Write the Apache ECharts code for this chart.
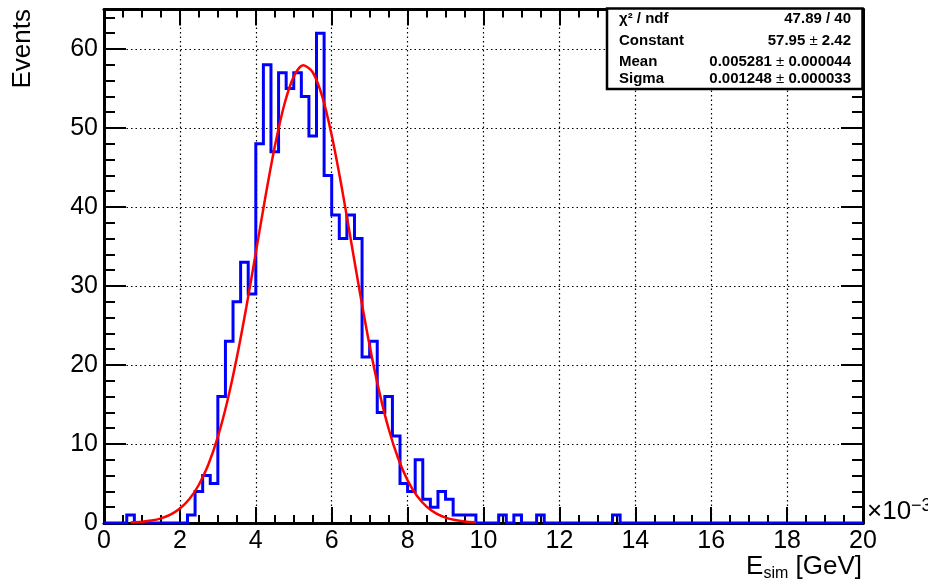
<!DOCTYPE html>
<html><head><meta charset="utf-8">
<script src="https://cdn.jsdelivr.net/npm/echarts@6/dist/echarts.min.js"></script>
<style>html,body{margin:0;padding:0;background:#fff}#c{width:928px;height:585px}</style>
</head><body><div id="c"></div>
<script>
// ---- data (x in units of 1e-3 GeV) ----
const binLow = 0;
const binWidth = 0.2;
const counts = [
  0,0,0,1,0,0,0,0,0,0,
  0,1,4,6,5,16,23,28,33,29,
  48,58,47,57,55,57,54,49,62,44,
  39,36,39,36,21,23,14,16,11,5,
  4,8,3,2,4,3,1,1,1,0,
  0,0,1,0,1,0,0,1,0,0,
  0,0,0,0,0,0,0,1,0,0,
  0,0,0,0,0,0,0,0,0,0,
  0,0,0,0,0,0,0,0,0,0,
  0,0,0,0,0,0,0,0,0,0
];
const fitX = [0.7,1.0,1.25,1.5,1.75,2.0,2.25,2.5,2.75,3.0,3.25,3.5,3.75,4.0,4.25,4.5,4.75,5.0,5.25,5.5,5.75,6.0,6.25,6.5,6.75,7.0,7.25,7.5,7.75,8.0,8.25,8.5,8.75,9.0,9.25,9.5,9.8];
const fitY = [0.07,0.16,0.31,0.59,1.06,1.83,3.03,4.84,7.41,10.91,15.42,20.94,27.31,34.22,41.20,47.65,52.94,56.50,57.93,57.06,54.00,49.09,42.87,35.96,28.99,22.44,16.69,11.93,8.19,5.40,3.42,2.08,1.22,0.68,0.37,0.19,0.08];
const statsNames = ['χ² / ndf', 'Constant', 'Mean', 'Sigma'];
const statsVals  = ['47.89 / 40', '57.95', '0.005281', '0.001248'];
const statsErrs  = [null, '2.42', '0.000044', '0.000033'];
const yTitle = 'Events';

// ---- build ----
const FONT = 'Liberation Sans, Arial, Helvetica, sans-serif';
const histPts = [];
counts.forEach((c, i) => {
  const lo = +(binLow + i * binWidth).toFixed(4);
  const hi = +(binLow + (i + 1) * binWidth).toFixed(4);
  histPts.push([lo, c], [hi, c]);
});
const fitPts = fitX.map((x, i) => [x, fitY[i]]);

const chart = echarts.init(document.getElementById('c'), null, {renderer: 'canvas'});
const axLine = {show: true, onZero: false, lineStyle: {color: '#000', width: 3}};
const grid = {left: 104, right: 65, top: 9.5, bottom: 62, containLabel: false, outerBoundsMode: 'none'};

function xAx(pos, labels) {
  return {
    type: 'value', position: pos, min: 0, max: 20, interval: 2,
    axisLine: axLine,
    axisTick: {show: true, inside: true, length: 16, lineStyle: {color: '#000', width: 2}},
    minorTick: {show: true, splitNumber: 4, length: 8, lineStyle: {color: '#000', width: 2}},
    axisLabel: {show: labels, color: '#000', fontSize: 25, fontFamily: FONT, margin: 6},
    splitLine: {show: labels, lineStyle: {color: '#000', width: 1.2, type: [1.5, 3]}},
    minorSplitLine: {show: false}
  };
}
function yAx(pos, interval, len, labels, split) {
  return {
    type: 'value', position: pos, min: 0, max: 65, interval: interval,
    axisLine: axLine,
    axisTick: {show: true, inside: true, length: len, lineStyle: {color: '#000', width: 2}},
    minorTick: {show: false},
    axisLabel: {show: labels, color: '#000', fontSize: 25, fontFamily: FONT, margin: 6,
      formatter: v => (v % 10 === 0 ? String(v) : '')},
    splitLine: {show: split, lineStyle: {color: '#000', width: 1.2, type: [1.5, 3]}}
  };
}

const xa0 = xAx('bottom', true);
xa0.name = '{e|E}{s|sim}{e| [GeV]}';
xa0.nameLocation = 'end';
xa0.nameGap = -1;
xa0.nameTextStyle = {
  align: 'right', verticalAlign: 'top', padding: [29, 0, 0, 0],
  rich: {
    e: {fontSize: 26, fontFamily: FONT, color: '#000', lineHeight: 30},
    s: {fontSize: 16, fontFamily: FONT, color: '#000', lineHeight: 14, verticalAlign: 'bottom'}
  }
};

const statsGraphics = [{
  type: 'rect', z: 100,
  shape: {x: 607, y: 8.5, width: 255.5, height: 80.5},
  style: {fill: '#fff', stroke: '#000', lineWidth: 2.5}
}];
const rowY = [19, 41, 61.5, 78.5];
statsNames.forEach((n, i) => {
  statsGraphics.push({
    type: 'text', z: 101, x: 619, y: rowY[i],
    style: {text: n, fontSize: 15, fontWeight: 'bold', fontFamily: FONT, fill: '#000',
      align: 'left', verticalAlign: 'middle', textAlign: 'left', textVerticalAlign: 'middle'}
  });
  const txt = statsErrs[i] == null ? '{b|' + statsVals[i] + '}'
    : '{b|' + statsVals[i] + ' }{n|±}{b| ' + statsErrs[i] + '}';
  statsGraphics.push({
    type: 'text', z: 101, x: 851, y: rowY[i],
    style: {text: txt, fill: '#000', align: 'right', verticalAlign: 'middle',
      textAlign: 'right', textVerticalAlign: 'middle',
      rich: {
        b: {fontSize: 15, fontWeight: 'bold', fontFamily: FONT, fill: '#000', color: '#000'},
        n: {fontSize: 15, fontWeight: 'normal', fontFamily: FONT, fill: '#000', color: '#000'}
      }}
  });
});

const option = {
  backgroundColor: '#fff',
  animation: false,
  grid: grid,
  xAxis: [xa0, xAx('top', false)],
  yAxis: [
    yAx('left', 10, 22, true, true),
    yAx('left', 2, 11, false, false),
    yAx('right', 10, 22, false, false),
    yAx('right', 2, 11, false, false)
  ],
  graphic: [
    {type: 'text', x: 23, y: 9, rotation: Math.PI / 2,
      style: {text: yTitle, fontSize: 26, fontFamily: FONT, fill: '#000',
        align: 'right', verticalAlign: 'middle', textAlign: 'right', textVerticalAlign: 'middle'}},
    {type: 'text', x: 867, y: 512,
      style: {text: '{a|×10}{p|−3}', fill: '#000', align: 'left', verticalAlign: 'middle',
        textAlign: 'left', textVerticalAlign: 'middle',
        rich: {
          a: {fontSize: 26, fontFamily: FONT, fill: '#000', color: '#000', lineHeight: 30},
          p: {fontSize: 18, fontFamily: FONT, fill: '#000', color: '#000', lineHeight: 16, verticalAlign: 'top'}
        }}},
    ...statsGraphics
  ],
  series: [
    {
      name: 'Events', type: 'line', xAxisIndex: 0, yAxisIndex: 0,
      data: histPts, showSymbol: false, symbol: 'none', z: 3,
      lineStyle: {color: '#0000ff', width: 3, join: 'miter'},
      clip: true
    },
    {
      name: 'Gaussian fit', type: 'line', xAxisIndex: 0, yAxisIndex: 0,
      data: fitPts, showSymbol: false, symbol: 'none', smooth: 0.3, z: 4,
      lineStyle: {color: '#ff0000', width: 2.5}
    }
  ]
};
chart.setOption(option);
</script>
</body></html>
